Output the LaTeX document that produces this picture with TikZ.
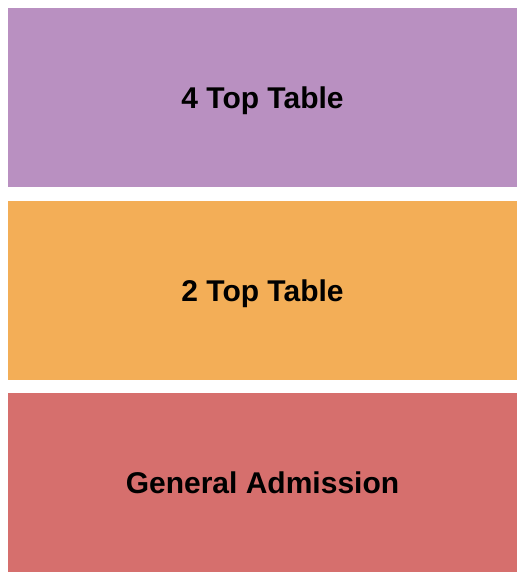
\documentclass[tikz,border=0pt]{standalone}
\usepackage{fontspec}
\setmainfont{Liberation Sans}
\definecolor{cPurple}{RGB}{185,144,193}
\definecolor{cOrange}{RGB}{243,174,87}
\definecolor{cRed}{RGB}{214,111,109}
\tikzset{
  section/.style={draw=none, minimum width=509pt, minimum height=179pt, inner sep=0pt},
  label/.style={anchor=base, inner sep=0pt, font=\fontsize{30}{34}\selectfont\bfseries, text=black},
}
\begin{document}
\begin{tikzpicture}[x=1pt,y=-1pt]
\useasboundingbox[fill=white] (0,0) rectangle (525,580);
\node[section, fill=cPurple] (four) at (262.5,97.5) {};
\node[section, fill=cOrange] (two) at (262.5,290.5) {};
\node[section, fill=cRed] (ga) at (262.5,482.5) {};
\node[label] (fourtxt) at (262.5,108.5) {4 Top Table};
\node[label] (twotxt) at (262.5,301.5) {2 Top Table};
\node[label] (gatxt) at (262.5,493.5) {General Admission};
\end{tikzpicture}
\end{document}
